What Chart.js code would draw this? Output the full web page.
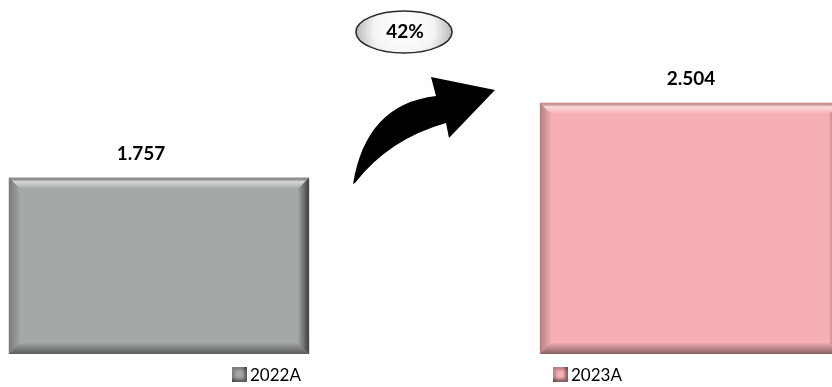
<!DOCTYPE html>
<html>
<head>
<meta charset="utf-8">
<script src="https://cdn.jsdelivr.net/npm/chart.js@4/dist/chart.umd.min.js"></script>
<style>
  html, body { margin: 0; padding: 0; background: #fff; overflow: hidden; }
  #wrap { position: relative; width: 832px; height: 387px; }
  #legend { position: absolute; left: 0; top: 0; width: 832px; height: 387px; pointer-events: none; font-family: Lato, "Liberation Sans", sans-serif; }
  .item { position: absolute; top: 366px; display: flex; align-items: center; font-size: 17px; color: #000; line-height: 17px; }
  .box { width: 15px; height: 15px; margin-right: 3px; box-sizing: border-box; }
</style>
</head>
<body>
<div id="wrap">
  <canvas id="c" width="832" height="387"></canvas>
  <div id="legend"></div>
</div>
<script>
// ---- data ----
const categories = ['2022A', '2023A'];
const values = [1.757, 2.504];
const valueLabels = ['1.757', '2.504'];
const barColors = ['#a5a8a9', '#f6afb5'];
const changeLabel = '42%';

// ---- bevel + labels + arrow plugin ----
const labelDx = [-18, 1];
const decor = {
  id: 'decor',
  afterDatasetsDraw(chart) {
    const ctx = chart.ctx;
    const meta = chart.getDatasetMeta(0);
    ctx.save();
    meta.data.forEach((bar, i) => {
      const p = bar.getProps(['x', 'y', 'base', 'width'], true);
      const l = p.x - p.width / 2, r = p.x + p.width / 2, t = p.y, b = p.base;
      const bw = 11;
      // top bevel
      let g = ctx.createLinearGradient(0, t, 0, t + bw);
      g.addColorStop(0, 'rgba(0,0,0,0.18)');
      g.addColorStop(0.35, 'rgba(255,255,255,0.55)');
      g.addColorStop(1, 'rgba(255,255,255,0)');
      ctx.fillStyle = g;
      ctx.beginPath(); ctx.moveTo(l, t); ctx.lineTo(r, t); ctx.lineTo(r - bw, t + bw); ctx.lineTo(l + bw, t + bw); ctx.closePath(); ctx.fill();
      // left bevel
      g = ctx.createLinearGradient(l, 0, l + bw, 0);
      g.addColorStop(0, 'rgba(0,0,0,0.28)');
      g.addColorStop(1, 'rgba(0,0,0,0.02)');
      ctx.fillStyle = g;
      ctx.beginPath(); ctx.moveTo(l, t); ctx.lineTo(l + bw, t + bw); ctx.lineTo(l + bw, b - bw); ctx.lineTo(l, b); ctx.closePath(); ctx.fill();
      // right bevel
      g = ctx.createLinearGradient(r, 0, r - bw, 0);
      g.addColorStop(0, 'rgba(0,0,0,0.62)');
      g.addColorStop(1, 'rgba(0,0,0,0.02)');
      ctx.fillStyle = g;
      ctx.beginPath(); ctx.moveTo(r, t); ctx.lineTo(r - bw, t + bw); ctx.lineTo(r - bw, b - bw); ctx.lineTo(r, b); ctx.closePath(); ctx.fill();
      // bottom bevel
      g = ctx.createLinearGradient(0, b, 0, b - bw);
      g.addColorStop(0, 'rgba(0,0,0,0.45)');
      g.addColorStop(1, 'rgba(0,0,0,0.03)');
      ctx.fillStyle = g;
      ctx.beginPath(); ctx.moveTo(l, b); ctx.lineTo(r, b); ctx.lineTo(r - bw, b - bw); ctx.lineTo(l + bw, b - bw); ctx.closePath(); ctx.fill();
    });
    ctx.restore();

    // value labels
    ctx.save();
    ctx.font = 'bold 19px Lato, "Liberation Sans", sans-serif';
    ctx.fillStyle = '#000';
    ctx.textAlign = 'center';
    ctx.textBaseline = 'middle';
    meta.data.forEach((bar, i) => {
      ctx.fillText(valueLabels[i], bar.x + labelDx[i], bar.y - 24);
    });
    ctx.restore();

    // curved arrow
    ctx.save();
    ctx.fillStyle = '#000';
    ctx.beginPath();
    ctx.moveTo(353, 184);
    ctx.quadraticCurveTo(366, 104, 436, 96);
    ctx.lineTo(431, 77);
    ctx.lineTo(495, 90);
    ctx.lineTo(449, 138);
    ctx.lineTo(446, 123);
    ctx.quadraticCurveTo(389, 139, 355, 183);
    ctx.closePath();
    ctx.fill();
    ctx.restore();

    // oval with change
    ctx.save();
    const cx = 404, cy = 32, rx = 48, ry = 21;
    const rg = ctx.createRadialGradient(cx, cy - 6, 4, cx, cy, rx);
    rg.addColorStop(0, '#ffffff');
    rg.addColorStop(0.6, '#f4f4f4');
    rg.addColorStop(1, '#b9b9b9');
    ctx.fillStyle = rg;
    ctx.beginPath();
    ctx.ellipse(cx, cy, rx, ry, 0, 0, Math.PI * 2);
    ctx.fill();
    ctx.lineWidth = 1.5;
    ctx.strokeStyle = '#2a2a2a';
    ctx.stroke();
    ctx.font = 'bold 19px Lato, "Liberation Sans", sans-serif';
    ctx.fillStyle = '#000';
    ctx.textAlign = 'center';
    ctx.textBaseline = 'middle';
    ctx.fillText(changeLabel, cx + 1, cy);
    ctx.restore();
  }
};

new Chart(document.getElementById('c'), {
  type: 'bar',
  data: {
    datasets: [{
      data: values.map((v, i) => ({ x: i, y: v })),
      backgroundColor: barColors,
      borderWidth: 0,
      barThickness: 300
    }]
  },
  options: {
    responsive: false,
    animation: false,
    layout: { padding: { left: 0, right: 0, top: 0, bottom: 33 } },
    plugins: { legend: { display: false }, tooltip: { enabled: false } },
    scales: {
      x: { type: 'linear', min: -0.2994, max: 1.2674, offset: false, display: false },
      y: { min: 0, max: 3.53, display: false }
    }
  },
  plugins: [decor]
});

// HTML legend
const legendPos = [232, 553];
const legend = document.getElementById('legend');
categories.forEach((c, i) => {
  const it = document.createElement('div');
  it.className = 'item';
  it.style.left = legendPos[i] + 'px';
  const bx = document.createElement('span');
  bx.className = 'box';
  bx.style.background = barColors[i];
  bx.style.boxShadow = 'inset -3px -3px 3px rgba(0,0,0,0.45), inset 3px 3px 3px rgba(0,0,0,0.25)';
  const tx = document.createElement('span');
  tx.textContent = c;
  it.appendChild(bx);
  it.appendChild(tx);
  legend.appendChild(it);
});
</script>
</body>
</html>
